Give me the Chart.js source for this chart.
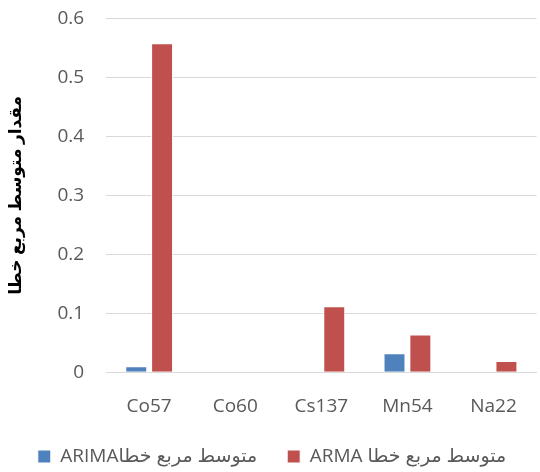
<!DOCTYPE html>
<html>
<head>
<meta charset="utf-8">
<script src="https://cdn.jsdelivr.net/npm/chart.js@4.4.1/dist/chart.umd.min.js"></script>
<style>
  html, body { margin: 0; padding: 0; background: #fff; }
  #wrap { width: 540px; height: 472px; }
</style>
</head>
<body>
<div id="wrap"><canvas id="errChart"></canvas></div>
<script>
// isotopes on the x axis
const isotopes = ['Co57', 'Co60', 'Cs137', 'Mn54', 'Na22'];
// mean squared error per model
const arimaMse = [0.010, 0, 0, 0.032, 0];
const armaMse = [0.558, 0, 0.112, 0.064, 0.019];
const seriesNames = ['ARIMAمتوسط مربع خطا', 'ARMA متوسط مربع خطا'];
const yTitle = 'مقدار متوسط مربع خطا';

const fontFam = "'Open Sans', 'DejaVu Sans', sans-serif";
const legendFam = "'Liberation Sans Narrow', 'Open Sans', 'DejaVu Sans', sans-serif";
const grey = '#595959';

// the legend padding also adds height, so trim the box and lift the items back up
const legendTrim = {
  id: 'legendTrim',
  afterInit(chart) {
    const lg = chart.legend;
    const fit = lg.fit;
    const drawItems = lg._draw;
    lg.fit = function() {
      fit.call(this);
      this.height -= 28;
    };
    lg._draw = function() {
      const c = this.ctx;
      c.save();
      c.translate(0, -24);
      drawItems.call(this);
      c.restore();
    };
  }
};

const ctx = document.getElementById('errChart').getContext('2d');
new Chart(ctx, {
  type: 'bar',
  data: {
    labels: isotopes,
    datasets: [{
      label: seriesNames[0],
      data: arimaMse,
      backgroundColor: '#4F81BD',
      borderColor: '#ffffff',
      borderWidth: 1,
      categoryPercentage: 0.6,
      barPercentage: 0.85
    }, {
      label: seriesNames[1],
      data: armaMse,
      backgroundColor: '#C0504D',
      borderColor: '#ffffff',
      borderWidth: 1,
      categoryPercentage: 0.6,
      barPercentage: 0.85
    }]
  },
  options: {
    responsive: true,
    maintainAspectRatio: false,
    animation: false,
    layout: { padding: { top: 2, left: 6, right: 2, bottom: 0 } },
    plugins: {
      legend: {
        position: 'bottom',
        labels: {
          boxWidth: 13,
          boxHeight: 13,
          padding: 30,
          color: grey,
          font: { family: legendFam, size: 19 }
        }
      },
      tooltip: { enabled: false }
    },
    scales: {
      y: {
        min: 0,
        max: 0.6,
        ticks: {
          stepSize: 0.1,
          color: grey,
          padding: 7,
          font: { family: fontFam, size: 19 },
          callback: function(v) { return Math.round(v * 10) / 10; }
        },
        // transparent tick marks just push the labels away from the plot
        grid: { color: '#D9D9D9', drawTicks: true, tickLength: 15, tickColor: 'rgba(0,0,0,0)' },
        border: { display: false },
        title: {
          display: true,
          text: yTitle,
          color: '#000',
          font: { family: fontFam, size: 17, weight: 'bold' },
          padding: { top: 0, bottom: 24 }
        }
      },
      x: {
        ticks: {
          color: grey,
          padding: 23,
          font: { family: fontFam, size: 19 }
        },
        grid: { display: false, drawTicks: false },
        border: { color: '#D9D9D9' }
      }
    }
  },
  plugins: [legendTrim]
});
</script>
</body>
</html>
